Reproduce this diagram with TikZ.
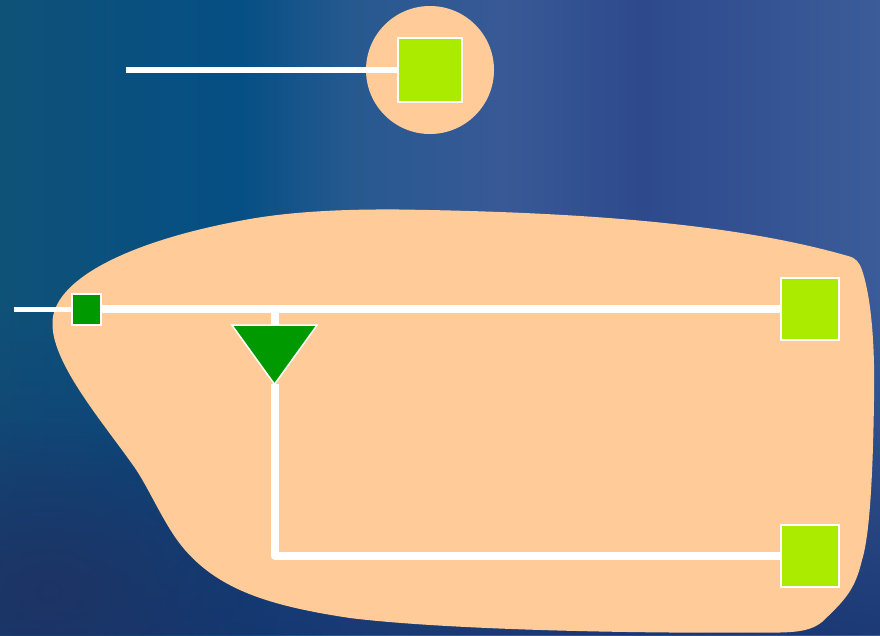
\documentclass[tikz,border=0pt]{standalone}
\usetikzlibrary{shapes.geometric,fadings}
\definecolor{blobc}{HTML}{FFCC99}
\definecolor{lime}{HTML}{AAEB00}
\definecolor{leaf}{HTML}{009900}
\definecolor{navy}{HTML}{17346F}
\definecolor{dusk}{HTML}{1F3363}
\pgfdeclarehorizontalshading{bgh}{100bp}{
 rgb(0bp)=(0.06,0.32,0.47);
 rgb(25bp)=(0.06,0.32,0.47);
 rgb(38.6bp)=(0.02,0.31,0.52);
 rgb(45bp)=(0.15,0.35,0.56);
 rgb(53.4bp)=(0.22,0.35,0.59);
 rgb(61.4bp)=(0.18,0.29,0.55);
 rgb(75bp)=(0.23,0.36,0.60);
 rgb(100bp)=(0.23,0.36,0.60)}
\tikzfading[name=fadebottom,top color=transparent!100,bottom color=transparent!15]
\tikzfading[name=fadecorner,inner color=transparent!15,outer color=transparent!100]
\tikzset{
 x=1pt,y=-1pt,
 wire/.style={draw=white,line width=8pt},
 thinwire/.style={draw=white,line width=5pt},
 midwire/.style={draw=white,line width=6pt},
 bigsq/.style={draw=white,line width=2pt,fill=lime,inner sep=0pt,outer sep=0pt,minimum width=#1,minimum height=#1},
 smallsq/.style={draw=white,line width=1.5pt,fill=leaf,inner sep=0pt,outer sep=0pt,minimum width=29pt,minimum height=31pt},
 tri/.style={draw=white,line width=1.5pt,fill=leaf,isosceles triangle,isosceles triangle stretches,shape border rotate=-90,inner sep=0pt,outer sep=0pt,minimum width=85pt,minimum height=59pt},
}
\begin{document}
\begin{tikzpicture}
\useasboundingbox (0,0) rectangle (880,635);
\shade[shading=bgh] (0,0) rectangle (880,635);
\fill[navy,path fading=fadebottom] (0,300) rectangle (880,635);
\fill[dusk,path fading=fadecorner] (-180,420) rectangle (280,760);
\fill[blobc] (52.5,325) .. controls (50,280) and (130,240) .. (250,219)
 .. controls (290,212) and (340,209) .. (400,209.5)
 .. controls (570,212) and (730,222) .. (848,256)
 .. controls (856,258) and (859,262) .. (862,270)
 .. controls (872,300) and (875,350) .. (874,400)
 .. controls (873,470) and (870,535) .. (862,560)
 .. controls (855,590) and (845,600) .. (822,622)
 .. controls (812,630) and (800,632) .. (780,632.5)
 .. controls (600,634) and (430,628) .. (350,618)
 .. controls (270,606) and (220,590) .. (185,550)
 .. controls (165,527) and (150,490) .. (135,468)
 .. controls (105,425) and (53,365) .. (52.5,325) -- cycle;
\node[circle,fill=blobc,minimum size=128pt,inner sep=0pt,outer sep=0pt] (halo) at (430,70) {};
\coordinate (topfree) at (126,70);
\coordinate (leftfree) at (14,309);
\coordinate (junction) at (274.5,309);
\coordinate (corner) at (274.5,555.5);
\node[bigsq=64pt] (topsq) at (430,70) {};
\node[smallsq] (gate) at (86.5,309.5) {};
\node[bigsq=58pt,minimum height=62pt] (upper) at (810,309) {};
\node[bigsq=58pt,minimum height=62pt] (lower) at (810,556) {};
\node[tri] (amp) at (274.5,347) {};
\draw[midwire] (topfree) -- (topsq.west);
\draw[thinwire] (leftfree) -- (leftfree -| gate.west);
\draw[wire] (gate.east |- junction) -- (junction -| upper.west);
\draw[wire] (junction) -- (junction |- amp.north);
\draw[wire,line join=round] (amp.apex) -- (corner) -- (corner -| lower.west);
\end{tikzpicture}
\end{document}
